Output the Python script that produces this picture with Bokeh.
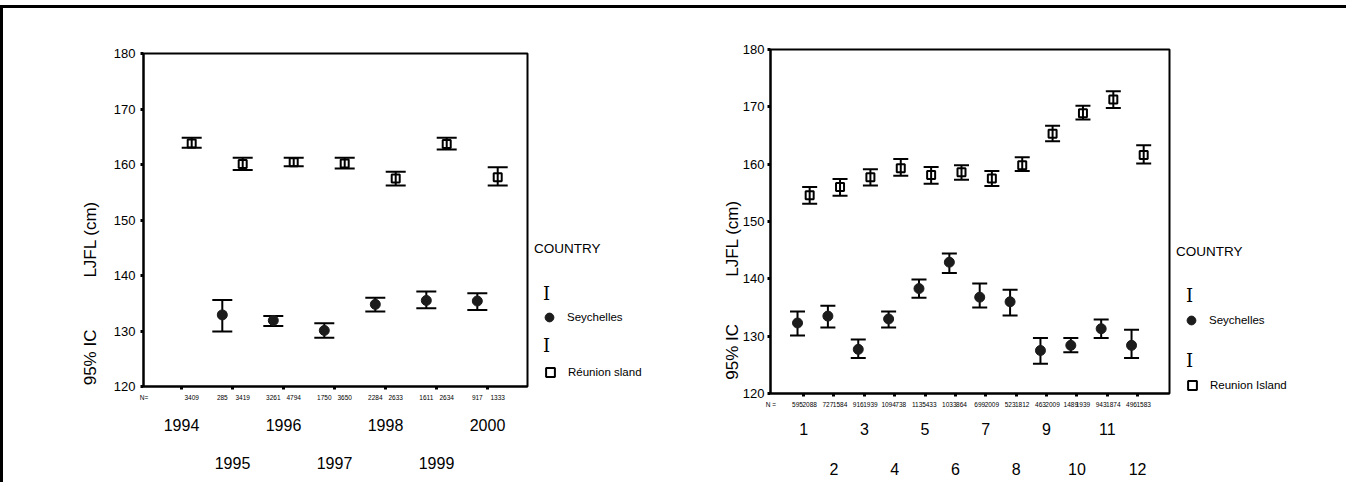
import math
from bokeh.plotting import figure
from bokeh.models import (Range1d, FixedTicker, LinearAxis, Legend, LegendItem,
                          Div, ColumnDataSource)
from bokeh.layouts import row, column
from bokeh.embed import file_html
from bokeh.resources import INLINE

FONT = "Liberation Sans"
NB = "\u00a0"

# ---------------- data: by year (left panel) ----------------
years = [1994, 1995, 1996, 1997, 1998, 1999, 2000]
year_labels = ["1994", "1995", "1996", "1997", "1998", "1999", "2000"]

sey_years = [1995, 1996, 1997, 1998, 1999, 2000]
sey_mean = [132.9, 131.9, 130.1, 134.8, 135.5, 135.4]
sey_low = [129.9, 130.9, 128.8, 133.5, 134.1, 133.8]
sey_high = [135.6, 132.7, 131.4, 136.0, 137.1, 136.8]
sey_n = ["285", "3261", "1750", "2284", "1611", "917"]

reu_years = [1994, 1995, 1996, 1997, 1998, 1999, 2000]
reu_mean = [163.8, 160.1, 160.4, 160.2, 157.5, 163.7, 157.7]
reu_low = [163.0, 159.0, 159.7, 159.3, 156.2, 162.7, 156.2]
reu_high = [164.8, 161.2, 161.2, 161.2, 158.7, 164.8, 159.5]
reu_n = ["3409", "3419", "4794", "3650", "2633", "2634", "1333"]

# ---------------- data: by month (right panel) ----------------
months = [1, 2, 3, 4, 5, 6, 7, 8, 9, 10, 11, 12]
month_labels = ["1", "2", "3", "4", "5", "6", "7", "8", "9", "10", "11", "12"]

sey_m_mean = [132.3, 133.5, 127.7, 133.0, 138.3, 142.9, 136.8, 136.0, 127.5, 128.4, 131.3, 128.4]
sey_m_low = [130.1, 131.5, 126.2, 131.5, 136.7, 141.0, 135.0, 133.6, 125.2, 127.2, 129.7, 126.2]
sey_m_high = [134.3, 135.3, 129.4, 134.3, 139.9, 144.4, 139.2, 138.1, 129.7, 129.7, 132.9, 131.1]
sey_m_n = ["595", "727", "916", "1094", "1135", "1033", "699", "523", "463", "1489", "943", "496"]

reu_m_mean = [154.6, 156.0, 157.7, 159.3, 158.1, 158.6, 157.5, 159.8, 165.3, 168.9, 171.3, 161.6]
reu_m_low = [153.1, 154.5, 156.3, 158.0, 156.6, 157.3, 156.2, 158.8, 164.0, 167.8, 169.8, 160.1]
reu_m_high = [156.0, 157.4, 159.1, 160.9, 159.5, 159.8, 158.8, 161.2, 166.7, 170.2, 172.7, 163.3]
reu_m_n = ["2088", "1584", "1939", "738", "433", "864", "2009", "1812", "2009", "1939", "1874", "1583"]

y_ticks = [120, 130, 140, 150, 160, 170, 180]
OFF = 0.2
legend_title = "COUNTRY"
sey_name = "Seychelles"


def make_panel(x_range, cats, cat_labels, sey_x, s_mean, s_lo, s_hi, s_n,
               reu_x, r_mean, r_lo, r_hi, r_n, n_prefix,
               fw, fh, bl, bt, bb, cap, std1, std2, std3,
               ylab_gap, ylab_trail, ylab_standoff, ystandoff):
    p = figure(frame_width=fw, frame_height=fh,
               min_border_left=bl, min_border_right=2,
               min_border_top=bt, min_border_bottom=bb,
               x_range=Range1d(*x_range), y_range=Range1d(120, 180),
               output_backend="svg", toolbar_location=None,
               background_fill_color="white", border_fill_color="white",
               outline_line_color="black", outline_line_width=2)
    p.xgrid.visible = False
    p.ygrid.visible = False

    ya = p.yaxis[0]
    ya.ticker = FixedTicker(ticks=y_ticks, minor_ticks=[])
    ya.major_tick_in = 0
    ya.major_tick_out = 3
    ya.major_tick_line_width = 3
    ya.axis_line_width = 2
    ya.major_label_standoff = ystandoff
    ya.major_label_text_font = FONT
    ya.major_label_text_font_size = "13px"
    ya.major_label_text_color = "black"
    ya.axis_label = "95% IC" + NB * ylab_gap + "LJFL (cm)" + NB * ylab_trail
    ya.axis_label_text_font = FONT
    ya.axis_label_text_font_size = "17px"
    ya.axis_label_text_font_style = "normal"
    ya.axis_label_text_color = "black"
    ya.axis_label_standoff = ylab_standoff

    sx = [c - OFF for c in sey_x]
    rx = [c + OFF for c in reu_x]

    n_ticks = [x_range[0] + 0.01] + sx + rx
    n_over = {x_range[0] + 0.01: n_prefix}
    for xv, t in zip(sx, s_n):
        n_over[xv] = t
    for xv, t in zip(rx, r_n):
        n_over[xv] = t
    xa = p.xaxis[0]
    xa.ticker = FixedTicker(ticks=n_ticks, minor_ticks=cats)
    xa.major_label_overrides = n_over
    xa.major_tick_out = 3
    xa.major_tick_in = 0
    xa.major_tick_line_color = None
    xa.minor_tick_out = 3
    xa.minor_tick_in = 0
    xa.minor_tick_line_width = 3
    xa.axis_line_width = 2
    xa.major_label_standoff = std1
    xa.major_label_text_font = FONT
    xa.major_label_text_font_size = "6.5px"
    xa.major_label_text_color = "black"

    first = [c for i, c in enumerate(cats) if i % 2 == 0]
    second = [c for i, c in enumerate(cats) if i % 2 == 1]
    lab = dict(zip(cats, cat_labels))
    for tks, std in ((first, std2), (second, std3)):
        ax = LinearAxis(ticker=FixedTicker(ticks=tks, minor_ticks=[]),
                        major_label_overrides={t: lab[t] for t in tks},
                        axis_line_color=None, major_tick_line_color=None,
                        minor_tick_line_color=None, major_tick_out=0, major_tick_in=0,
                        minor_tick_out=0, minor_tick_in=0,
                        major_label_standoff=std,
                        major_label_text_font=FONT, major_label_text_font_size="16px",
                        major_label_text_color="black")
        p.add_layout(ax, "below")

    for xs, lo, hi in ((sx, s_lo, s_hi), (rx, r_lo, r_hi)):
        src = ColumnDataSource(dict(x=xs, lo=lo, hi=hi))
        p.segment(x0="x", y0="lo", x1="x", y1="hi", source=src, line_width=2, line_color="black")
        p.scatter(x="x", y="lo", source=src, marker="dash", size=cap, line_width=2, line_color="black")
        p.scatter(x="x", y="hi", source=src, marker="dash", size=cap, line_width=2, line_color="black")

    p.scatter(x=sx, y=s_mean, marker="circle", size=10, fill_color="#1c1c1c",
              line_color="#1c1c1c", line_width=1)
    p.scatter(x=rx, y=r_mean, marker="square", size=8, fill_color=None,
              line_color="black", line_width=2)
    return p


def make_legend(width, height, reu_label, a_y, b_y, i_x, i_y, i_spacing):
    q = figure(width=width, height=height, min_border=0,
               x_range=Range1d(0, 1), y_range=Range1d(0, 1),
               x_axis_type=None, y_axis_type=None,
               output_backend="svg", toolbar_location=None,
               background_fill_color="white", border_fill_color="white",
               outline_line_color=None)
    q.xgrid.visible = False
    q.ygrid.visible = False
    nan = float("nan")
    sey_r = q.scatter(x=[nan], y=[nan], marker="circle", fill_color="#1c1c1c",
                      line_color="#1c1c1c", line_width=1)
    reu_r = q.scatter(x=[nan], y=[nan], marker="square", fill_color=None,
                      line_color="black", line_width=2)
    blank_r = q.scatter(x=[nan], y=[nan], marker="circle", fill_alpha=0, line_alpha=0)

    common = dict(label_text_font=FONT, label_text_font_size="11.5px", label_text_color="black",
                  glyph_width=30, glyph_height=22, label_height=22, label_standoff=3,
                  padding=0, margin=0, spacing=0, border_line_color=None,
                  background_fill_alpha=0)
    leg_a = Legend(items=[LegendItem(label=sey_name, renderers=[sey_r])],
                   title=legend_title, title_text_font=FONT, title_text_font_size="13.5px",
                   title_text_font_style="normal", title_text_color="black",
                   title_standoff=50, location=(5, a_y), **common)
    leg_b = Legend(items=[LegendItem(label=reu_label, renderers=[reu_r])],
                   location=(6, b_y), **common)
    leg_i = Legend(items=[LegendItem(label="I", renderers=[blank_r]),
                          LegendItem(label="I", renderers=[blank_r])],
                   location=(i_x, i_y), label_text_font="DejaVu Serif",
                   label_text_font_size="18px", label_text_color="black",
                   glyph_width=1, glyph_height=22, label_height=22, label_standoff=0,
                   padding=0, margin=0, spacing=i_spacing, border_line_color=None,
                   background_fill_alpha=0)
    q.add_layout(leg_a)
    q.add_layout(leg_b)
    q.add_layout(leg_i)
    return q


p1 = make_panel((1993.255, 2000.784), years, year_labels,
                sey_years, sey_mean, sey_low, sey_high, sey_n,
                reu_years, reu_mean, reu_low, reu_high, reu_n, "N=",
                384, 333, 140, 41, 96, 20,
                4, 15, 23,
                11, 31, 11, 5)

p2 = make_panel((-0.09, 13.05), months, month_labels,
                months, sey_m_mean, sey_m_low, sey_m_high, sey_m_n,
                months, reu_m_mean, reu_m_low, reu_m_high, reu_m_n, "N =",
                399, 344, 97, 41, 89, 15,
                4, 12, 25,
                10, 29, -2, 3)

l1 = make_legend(144, 474, "Réunion sland", 154, 99, 13, 126, 30)
l2 = make_legend(175, 474, "Reunion Island", 151, 86, 14, 111, 43)

top1 = Div(text="", width=1346, height=5, margin=0)
top2 = Div(text="", width=1346, height=3, margin=0, styles={"background-color": "black"})
leftbar = Div(text="", width=3, height=474, margin=0, styles={"background-color": "black"})
shift = Div(text="", width=526, height=4, margin=0)

layout = column(top1, top2,
                row(leftbar,
                    column(shift, p1, spacing=0),
                    column(l1, spacing=0),
                    column(p2, spacing=0),
                    column(l2, spacing=0),
                    spacing=0),
                spacing=0)

open("out.html", "w").write(file_html(layout, INLINE))
